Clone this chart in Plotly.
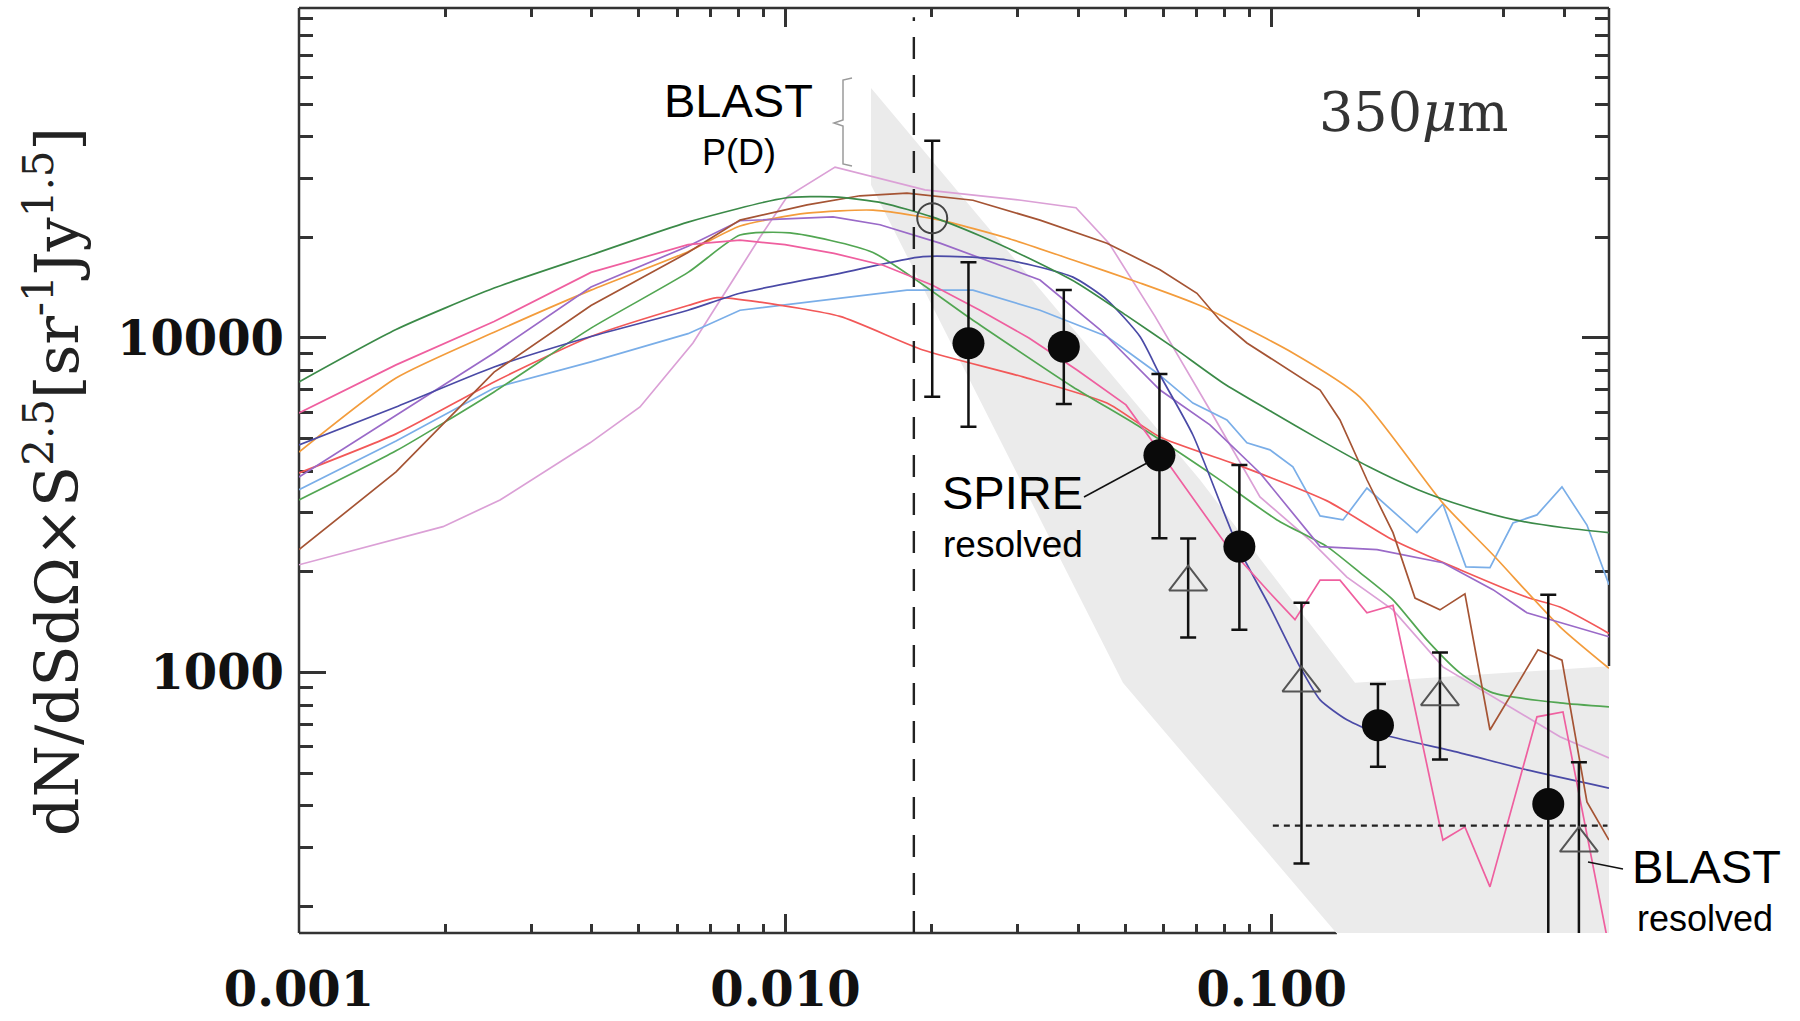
import plotly.graph_objects as go

# ---------------- data: S [Jy] and dN/dS x S^2.5 [sr^-1 Jy^1.5] ----------------
grid_s = [0.001, 0.001583, 0.002518, 0.003984, 0.006307, 0.00998, 0.01259, 0.01588,
          0.02002, 0.02512, 0.03168, 0.03977, 0.05014, 0.06294, 0.07938, 0.1001,
          0.1257, 0.1584, 0.1998, 0.2507, 0.3162, 0.3988, 0.4935]
dkgreen_v = [7390, 10600, 14100, 17700, 22200, 26200, 26400, 25300, 23000, 20200,
             17300, 14600, 11700, 9340, 7340, 6010, 4960, 4120, 3520, 3130, 2860, 2710, 2620]

pink_s = [0.001, 0.001583, 0.002518, 0.003984, 0.006307, 0.008066, 0.00998, 0.01259,
          0.01588, 0.02002, 0.02512, 0.03168, 0.03977, 0.05014, 0.05891, 0.0801,
          0.09915, 0.1116, 0.1257, 0.1381, 0.1569, 0.1775, 0.2248, 0.2495, 0.2809,
          0.3509, 0.3969, 0.4888]
pink_v = [5970, 8310, 11200, 15700, 19000, 19600, 19000, 17900, 16500, 14400, 12100,
          10000, 8020, 6310, 4560, 2440, 1730, 1440, 1890, 1890, 1510, 1590, 316, 346,
          229, 738, 763, 162]

orange_s = [0.001, 0.001583, 0.002518, 0.003984, 0.006307, 0.008066, 0.01108, 0.01514,
            0.02079, 0.02855, 0.03901, 0.05358, 0.07117, 0.1105, 0.1518, 0.2248, 0.2849,
            0.3913, 0.4935]
orange_v = [4560, 7590, 10400, 13900, 18100, 21600, 23600, 24100, 22500, 19900, 17100,
            14600, 12500, 9020, 6660, 3210, 2250, 1370, 1030]

purple_s = [0.001, 0.001583, 0.002518, 0.003984, 0.006307, 0.008066, 0.01253, 0.01565,
            0.02079, 0.03338, 0.04433, 0.05891, 0.07462, 0.09457, 0.1257, 0.1646, 0.2248,
            0.2849, 0.3346, 0.4935]
purple_v = [3840, 5890, 9020, 14200, 18800, 22400, 23000, 21800, 19200, 14900, 10600,
            6990, 5500, 3950, 2380, 2330, 2130, 1770, 1510, 1280]

navy_s = [0.001, 0.001583, 0.002518, 0.003984, 0.006307, 0.008066, 0.01295, 0.01918,
          0.02855, 0.03901, 0.04582, 0.05358, 0.05891, 0.06884, 0.08518, 0.09915, 0.1143,
          0.1257, 0.1427, 0.1646, 0.2437, 0.3346, 0.4935]
navy_v = [4790, 6220, 8190, 10100, 12100, 13600, 15600, 17500, 17100, 15200, 13000,
          10100, 7750, 5130, 2380, 1570, 1040, 829, 723, 660, 576, 512, 452]

red_s = [0.001, 0.001583, 0.002518, 0.003984, 0.006307, 0.007235, 0.008867, 0.01295,
         0.01918, 0.0308, 0.04582, 0.05891, 0.08722, 0.1299, 0.1775, 0.2437, 0.3346,
         0.3913, 0.4935]
red_v = [3950, 5170, 7390, 10100, 12500, 13200, 12800, 11600, 9210, 7650, 6390, 5060,
         4120, 3260, 2490, 2030, 1680, 1570, 1310]

ltblue_s = [0.001, 0.001583, 0.002518, 0.003984, 0.006307, 0.008066, 0.01778, 0.0243,
            0.03338, 0.04582, 0.05808, 0.06884, 0.08086, 0.08889, 0.09915, 0.1105, 0.1257,
            0.1401, 0.1569, 0.1988, 0.2248, 0.2507, 0.2809, 0.3132, 0.3509, 0.395, 0.4446,
            0.4935]
ltblue_v = [3520, 4920, 7090, 8480, 10300, 12100, 13900, 13900, 12100, 10100, 7860, 6390,
            5690, 4860, 4630, 4120, 2940, 2860, 3560, 2620, 3190, 2070, 2060, 2800, 2960,
            3590, 2760, 1830]

green2_s = [0.001, 0.001583, 0.002518, 0.003984, 0.006307, 0.008066, 0.01022, 0.01514,
            0.0243, 0.03901, 0.05358, 0.07714, 0.1025, 0.1299, 0.1518, 0.1775, 0.2085,
            0.2437, 0.2849, 0.3913, 0.4935]
green2_v = [3280, 4600, 6900, 10700, 15700, 20300, 20600, 18000, 11300, 7140, 5420, 3820,
            2860, 2380, 1990, 1650, 1250, 998, 870, 812, 790]

brown_s = [0.001, 0.001583, 0.002518, 0.003984, 0.006307, 0.008066, 0.01108, 0.01424,
           0.01778, 0.0243, 0.03338, 0.04582, 0.05891, 0.07017, 0.07823, 0.08889, 0.1257,
           0.1381, 0.1569, 0.1775, 0.197, 0.2217, 0.2495, 0.2809, 0.3526, 0.395, 0.4446,
           0.4935]
brown_v = [2330, 3980, 7910, 12500, 18000, 22500, 25000, 26600, 27100, 25800, 22500,
           19200, 16000, 13600, 11300, 9660, 6990, 5690, 3770, 2620, 1670, 1540, 1720,
           674, 1170, 1090, 411, 316]

orchid_s = [0.001, 0.001977, 0.00259, 0.003966, 0.005024, 0.006456, 0.007803, 0.008867,
            0.01008, 0.01265, 0.01936, 0.03051, 0.03957, 0.04626, 0.05753, 0.07462,
            0.09457, 0.1198, 0.1427, 0.1775, 0.2248, 0.2849, 0.3913, 0.4935]
orchid_v = [2100, 2730, 3280, 4860, 6220, 9660, 14900, 20000, 26400, 32400, 27700, 25800,
            24500, 19200, 11600, 6090, 3350, 2490, 1930, 1540, 1040, 846, 643, 556]

# grey band (polygon vertices)
shade_s = [0.015, 0.07117, 0.1483, 0.5, 0.5, 0.1361, 0.04943, 0.015]
shade_v = [55800, 3770, 932, 1047, 166, 166, 932, 28650]

# BLAST P(D) point
pd_s = [0.02004]
pd_v = [22790]
pd_hi = [38860]
pd_lo = [6677]

# SPIRE resolved counts
spire_s = [0.02379, 0.03736, 0.05875, 0.08578, 0.1653, 0.3702]
spire_v = [9640, 9420, 4460, 2380, 696, 405]
spire_hi = [16840, 13900, 7810, 4170, 925, 1710]
spire_lo = [5430, 6350, 2520, 1344, 523, 50]

# BLAST resolved counts
blast_s = [0.06731, 0.1151, 0.2217, 0.428]
blast_v = [1864, 930, 846, 309]
blast_hi = [2516, 1618, 1148, 540]
blast_lo = [1273, 269, 550, 50]

confusion_s = 0.01837          # vertical dashed line
limit_v = 349                  # horizontal dotted line
limit_s = [0.1005, 0.49]

x_major = [0.001, 0.01, 0.1]
x_labels = ["0.001", "0.010", "0.100"]
x_minor = [0.002, 0.003, 0.004, 0.005, 0.006, 0.007, 0.008, 0.009,
           0.02, 0.03, 0.04, 0.05, 0.06, 0.07, 0.08, 0.09, 0.2, 0.3, 0.4]
y_major = [1000, 10000]
y_labels = ["1000", "10000"]
y_minor = [200, 300, 400, 500, 600, 700, 800, 900,
           2000, 3000, 4000, 5000, 6000, 7000, 8000, 9000,
           20000, 30000, 40000, 50000, 60000, 70000, 80000, 90000]

# ---------------- figure ----------------
W, H = 1800, 1021
ML, MR, MT, MB = 299, 191, 8, 88
PW, PH = W - ML - MR, H - MT - MB
X_RANGE = [-3.0, -0.3067]
Y_RANGE = [2.222, 4.986]


def px(X):
    return (X - ML) / PW


def py(Y):
    return (H - MB - Y) / PH


fig = go.Figure()
fig.add_trace(go.Scatter(x=shade_s, y=shade_v, mode="lines", fill="toself",
                         fillcolor="#ebebeb", line=dict(width=0), hoverinfo="skip"))

models = [
    (orchid_s, orchid_v, "#dba0d6", "linear"),
    (ltblue_s, ltblue_v, "#7aaee8", "linear"),
    (red_s, red_v, "#f25858", "spline"),
    (green2_s, green2_v, "#52a652", "spline"),
    (orange_s, orange_v, "#f39c3c", "spline"),
    (purple_s, purple_v, "#9a6ac8", "linear"),
    (navy_s, navy_v, "#4a4aa6", "spline"),
    (brown_s, brown_v, "#a55434", "linear"),
    (grid_s, dkgreen_v, "#3b8a48", "spline"),
    (pink_s, pink_v, "#ef5f9f", "linear"),
]
for s, v, c, shp in models:
    fig.add_trace(go.Scatter(x=s, y=v, mode="lines",
                             line=dict(color=c, width=1.7, shape=shp, smoothing=0.6),
                             hoverinfo="skip"))

err_style = dict(type="data", symmetric=False, color="#111111", thickness=2.5, width=8)

fig.add_trace(go.Scatter(
    x=pd_s, y=pd_v, mode="markers",
    marker=dict(symbol="circle-open", size=30, color="#444444", line=dict(width=2)),
    error_y=dict(array=[h - v for h, v in zip(pd_hi, pd_v)],
                 arrayminus=[v - l for v, l in zip(pd_v, pd_lo)], **err_style)))
fig.add_trace(go.Scatter(
    x=blast_s, y=blast_v, mode="markers",
    marker=dict(symbol="triangle-up-open", size=33, color="#555555", line=dict(width=2)),
    error_y=dict(array=[h - v for h, v in zip(blast_hi, blast_v)],
                 arrayminus=[v - l for v, l in zip(blast_v, blast_lo)], **err_style)))
fig.add_trace(go.Scatter(
    x=spire_s, y=spire_v, mode="markers",
    marker=dict(symbol="circle", size=32, color="#0a0a0a"),
    error_y=dict(array=[h - v for h, v in zip(spire_hi, spire_v)],
                 arrayminus=[v - l for v, l in zip(spire_v, spire_lo)], **err_style)))

axis_col = "#333333"
tickfont = dict(family="DejaVu Serif", size=48, color="#111111", weight="bold")
fig.update_xaxes(type="log", range=X_RANGE, showgrid=False, zeroline=False, showline=False,
                 automargin=False,
                 ticks="inside", ticklen=19, tickwidth=2.5, tickcolor=axis_col, mirror="ticks",
                 tickvals=x_major, ticktext=x_labels, tickfont=tickfont,
                 ticklabelstandoff=24, layer="below traces",
                 minor=dict(tickvals=x_minor, ticks="inside", ticklen=9, tickwidth=2.5,
                            tickcolor=axis_col, showgrid=False))
fig.update_yaxes(type="log", range=Y_RANGE, showgrid=False, zeroline=False, showline=False,
                 automargin=False,
                 ticks="inside", ticklen=27, tickwidth=2.5, tickcolor=axis_col, mirror="ticks",
                 tickvals=y_major, ticktext=y_labels, tickfont=tickfont,
                 ticklabelstandoff=14, layer="below traces",
                 minor=dict(tickvals=y_minor, ticks="inside", ticklen=14, tickwidth=2.5,
                            tickcolor=axis_col, showgrid=False))

line_axis = dict(color=axis_col, width=2.5)
shapes = [
    dict(type="line", xref="paper", yref="paper", x0=0, x1=0, y0=0, y1=1, line=line_axis, layer="below"),
    dict(type="line", xref="paper", yref="paper", x0=0, x1=1, y0=1, y1=1, line=line_axis, layer="below"),
    dict(type="line", xref="x", yref="paper", x0=x_major[0], x1=shade_s[5], y0=0, y1=0,
         line=line_axis, layer="below"),
    dict(type="line", xref="paper", yref="y", x0=1, x1=1, y0=shade_v[3], y1=10 ** Y_RANGE[1],
         line=line_axis, layer="below"),
    # vertical dashed line
    dict(type="line", xref="x", yref="paper", x0=confusion_s, x1=confusion_s, y0=0, y1=0.99,
         line=dict(color="#222222", width=2.4, dash="22px,16px")),
    # horizontal dotted line
    dict(type="line", xref="x", yref="y", x0=limit_s[0], x1=limit_s[1], y0=limit_v, y1=limit_v,
         line=dict(color="#222222", width=2.2, dash="6px,5px")),
    # leader lines
    dict(type="line", xref="paper", yref="paper", x0=px(1084), y0=py(497), x1=px(1147), y1=py(463),
         line=dict(color="#111111", width=1.5)),
    dict(type="line", xref="paper", yref="paper", x0=px(1588), y0=py(862), x1=px(1623), y1=py(869),
         line=dict(color="#111111", width=1.5)),
    # brace next to BLAST P(D)
    dict(type="path", xref="paper", yref="paper",
         path=(f"M {px(852)},{py(78)} L {px(843)},{py(80)} L {px(843)},{py(120)} "
               f"L {px(834)},{py(123)} L {px(843)},{py(126)} L {px(843)},{py(164)} "
               f"L {px(852)},{py(166)}"),
         line=dict(color="#9a9a9a", width=1.5)),
]

sans = "Liberation Sans, Arial, sans-serif"
annotations = [
    dict(text="BLAST", x=px(738.5), y=py(100.5), font=dict(family=sans, size=47, color="#000")),
    dict(text="P(D)", x=px(739), y=py(152.5), font=dict(family=sans, size=36, color="#000")),
    dict(text="SPIRE", x=px(1012.5), y=py(492.5), font=dict(family=sans, size=47, color="#000")),
    dict(text="resolved", x=px(1012.5), y=py(544), font=dict(family=sans, size=37, color="#000")),
    dict(text="BLAST", x=px(1706), y=py(866), font=dict(family=sans, size=47, color="#000")),
    dict(text="resolved", x=px(1705), y=py(918), font=dict(family=sans, size=36, color="#000")),
    dict(text="350<i>μ</i>m", x=px(1413.5), y=py(113),
         font=dict(family="DejaVu Serif", size=54, color="#333333")),
    dict(text="dN/dSdΩ×S<sup>2.5</sup>[sr<sup>-1</sup>Jy<sup>1.5</sup>]", textangle=-90,
         x=px(53), y=py(482), font=dict(family="DejaVu Serif", size=60, color="#222222")),
]
for a in annotations:
    a.update(xref="paper", yref="paper", showarrow=False, xanchor="center", yanchor="middle")

fig.update_layout(width=W, height=H, autosize=False,
                  margin=dict(l=ML, r=MR, t=MT, b=MB, pad=0),
                  paper_bgcolor="white", plot_bgcolor="white", showlegend=False,
                  shapes=shapes, annotations=annotations)

fig.write_html("out.html")
